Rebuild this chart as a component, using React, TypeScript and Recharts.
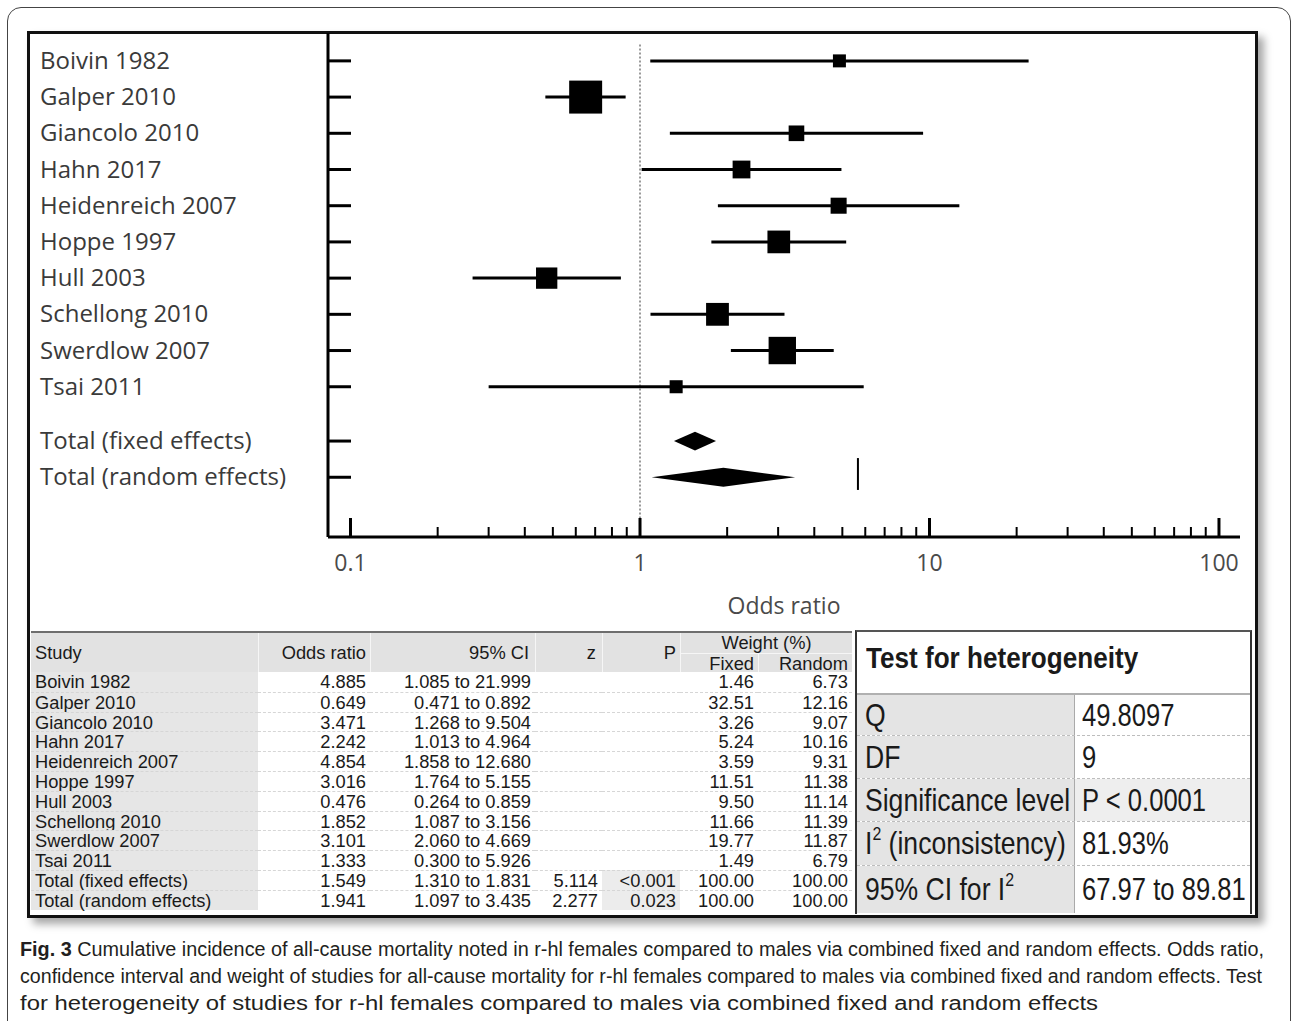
import React from "react";
import { Area, ComposedChart, Label, ReferenceLine, Scatter, XAxis, YAxis } from "recharts";

// ---- forest plot data ----
const studies = [
  "Boivin 1982",
  "Galper 2010",
  "Giancolo 2010",
  "Hahn 2017",
  "Heidenreich 2007",
  "Hoppe 1997",
  "Hull 2003",
  "Schellong 2010",
  "Swerdlow 2007",
  "Tsai 2011",
];
const oddsRatio = [4.885, 0.649, 3.471, 2.242, 4.854, 3.016, 0.476, 1.852, 3.101, 1.333];
const ciLow = [1.085, 0.471, 1.268, 1.013, 1.858, 1.764, 0.264, 1.087, 2.06, 0.3];
const ciHigh = [21.999, 0.892, 9.504, 4.964, 12.68, 5.155, 0.859, 3.156, 4.669, 5.926];
const weightFixed = [1.46, 32.51, 3.26, 5.24, 3.59, 11.51, 9.5, 11.66, 19.77, 1.49];
const weightRandom = [6.73, 12.16, 9.07, 10.16, 9.31, 11.38, 11.14, 11.39, 11.87, 6.79];

const totalLabels = ["Total (fixed effects)", "Total (random effects)"];
const totalOddsRatio = [1.549, 1.941];
const totalCiLow = [1.31, 1.097];
const totalCiHigh = [1.831, 3.435];
const totalZ = ["5.114", "2.277"];
const totalP = ["<0.001", "0.023"];
const totalWeightFixed = [100, 100];
const totalWeightRandom = [100, 100];

// lone vertical tick drawn beside the random-effects row in the original
const strayMark = 5.66;

const majorTicks = [0.1, 1, 10, 100];
const minorTicks = [
  0.2, 0.3, 0.4, 0.5, 0.6, 0.7, 0.8, 0.9,
  2, 3, 4, 5, 6, 7, 8, 9,
  20, 30, 40, 50, 60, 70, 80, 90,
];

const hetLabels = ["Q", "DF", "Significance level", "I2 (inconsistency)", "95% CI for I2"];
const hetValues = ["49.8097", "9", "P < 0.0001", "81.93%", "67.97 to 89.81"];

const caption = [
  "Cumulative incidence of all-cause mortality noted in r-hl females compared to males via combined fixed and random effects. Odds ratio,",
  "confidence interval and weight of studies for all-cause mortality for r-hl females compared to males via combined fixed and random effects. Test",
  "for heterogeneity of studies for r-hl females compared to males via combined fixed and random effects",
];

// ---- layout helpers ----
const rowOfStudy = (i: number) => i;
const rowOfTotal = (j: number) => studies.length + 0.5 + j;
const rowLabels = new Map<number, string>();
studies.forEach((s, i) => rowLabels.set(rowOfStudy(i), s));
totalLabels.forEach((s, j) => rowLabels.set(rowOfTotal(j), s));
const rowTicks = [...rowLabels.keys()];
const xTicks = [...majorTicks, ...minorTicks].sort((a, b) => a - b);

const PLOT_FONT = "'Open Sans', 'Noto Sans', sans-serif";
const TABLE_FONT = "'Liberation Sans', Arial, sans-serif";

const squarePoints = studies.map((s, i) => ({ x: oddsRatio[i], y: rowOfStudy(i), w: weightFixed[i] }));

const diamond = (j: number) => {
  const r = rowOfTotal(j);
  const half = 0.26;
  return [
    { x: totalCiLow[j], band: [r, r] },
    { x: totalOddsRatio[j], band: [r - half, r + half] },
    { x: totalCiHigh[j], band: [r, r] },
  ];
};

function SquareShape(props: any) {
  const side = 7.6 + 4.45 * Math.sqrt(props.payload.w);
  return <rect x={props.cx - side / 2} y={props.cy - side / 2} width={side} height={side} fill="#000" />;
}

function XTick(props: any) {
  const { x, y, payload } = props;
  const major = majorTicks.includes(payload.value);
  return (
    <g>
      <line x1={x} x2={x} y1={y} y2={y - (major ? 19 : 10)} stroke="#000" strokeWidth={major ? 3 : 2} />
      {major && (
        <text x={x} y={y + 34} textAnchor="middle" fontFamily={PLOT_FONT} fontSize={23} fill="#4a4a4a">
          {payload.value}
        </text>
      )}
    </g>
  );
}

function YTick(props: any) {
  const { x, y, payload } = props;
  return (
    <g>
      <line x1={x} x2={x + 23} y1={y} y2={y} stroke="#000" strokeWidth={3} />
      <text x={40} y={y + 8} fontFamily={PLOT_FONT} fontSize={24} fill="#3a3a3a">
        {rowLabels.get(payload.value)}
      </text>
    </g>
  );
}

function Narrow({ children, scale = 0.83 }: { children: React.ReactNode; scale?: number }) {
  return (
    <span style={{ display: "inline-block", transform: `scaleX(${scale})`, transformOrigin: "left center", whiteSpace: "nowrap" }}>
      {children}
    </span>
  );
}

function withSup(label: string) {
  const k = label.indexOf("I2");
  if (k < 0) return label;
  return (
    <>
      {label.slice(0, k)}I<sup style={{ fontSize: "0.6em", verticalAlign: "0.75em", lineHeight: 0 }}>2</sup>
      {label.slice(k + 2)}
    </>
  );
}

const colWidths = [227, 112, 165, 67, 78, 78, 94];
const colLefts = colWidths.map((_, i) => colWidths.slice(0, i).reduce((a, b) => a + b, 0));
const tableWidth = colWidths.reduce((a, b) => a + b, 0);
const ROW_H = 19.8;
const HEAD_H = 39;
const headBg = "#e2e2e2";
const studyBg = "#e6e6e6";

function Cell({
  col,
  span = 1,
  top,
  height,
  align = "right",
  bg,
  children,
  style,
}: {
  col: number;
  span?: number;
  top: number;
  height: number;
  align?: "left" | "right" | "center";
  bg?: string;
  children?: React.ReactNode;
  style?: React.CSSProperties;
}) {
  const width = colWidths.slice(col, col + span).reduce((a, b) => a + b, 0);
  return (
    <div
      style={{
        position: "absolute",
        left: colLefts[col],
        top,
        width,
        height,
        lineHeight: `${height}px`,
        padding: "0 4px",
        boxSizing: "border-box",
        textAlign: align,
        whiteSpace: "nowrap",
        background: bg,
        ...style,
      }}
    >
      {children}
    </div>
  );
}

function ResultsTable() {
  const rows = [
    ...studies.map((s, i) => ({
      name: s,
      or: oddsRatio[i].toFixed(3),
      ci: `${ciLow[i].toFixed(3)} to ${ciHigh[i].toFixed(3)}`,
      z: "",
      p: "",
      wf: weightFixed[i].toFixed(2),
      wr: weightRandom[i].toFixed(2),
      total: false,
    })),
    ...totalLabels.map((s, j) => ({
      name: s,
      or: totalOddsRatio[j].toFixed(3),
      ci: `${totalCiLow[j].toFixed(3)} to ${totalCiHigh[j].toFixed(3)}`,
      z: totalZ[j],
      p: totalP[j],
      wf: totalWeightFixed[j].toFixed(2),
      wr: totalWeightRandom[j].toFixed(2),
      total: true,
    })),
  ];
  const sep = "1px solid #f6f6f6";
  return (
    <div
      style={{
        position: "absolute",
        left: 31,
        top: 631,
        width: tableWidth,
        height: 2 + HEAD_H + rows.length * ROW_H,
        borderTop: "2px solid #6e6e6e",
        fontFamily: TABLE_FONT,
        fontSize: 18.3,
        color: "#1a1a1a",
      }}
    >
      <Cell col={0} top={0} height={HEAD_H} align="left" bg={headBg}>Study</Cell>
      <Cell col={1} top={0} height={HEAD_H} bg={headBg} style={{ borderLeft: sep }}>Odds ratio</Cell>
      <Cell col={2} top={0} height={HEAD_H} bg={headBg} style={{ borderLeft: sep, paddingRight: 6 }}>95% CI</Cell>
      <Cell col={3} top={0} height={HEAD_H} bg={headBg} style={{ borderLeft: sep, paddingRight: 6 }}>z</Cell>
      <Cell col={4} top={0} height={HEAD_H} bg={headBg} style={{ borderLeft: sep }}>P</Cell>
      <Cell col={5} span={2} top={0} height={HEAD_H / 2} align="center" bg={headBg} style={{ borderLeft: sep }}>Weight (%)</Cell>
      <Cell col={5} top={HEAD_H / 2} height={HEAD_H / 2} bg={headBg} style={{ borderLeft: sep, borderTop: sep }}>Fixed</Cell>
      <Cell col={6} top={HEAD_H / 2} height={HEAD_H / 2} bg={headBg} style={{ borderLeft: sep, borderTop: sep }}>Random</Cell>
      {rows.map((r, k) => {
        const top = HEAD_H + k * ROW_H;
        const line: React.CSSProperties = k > 0 ? { borderTop: "1px dashed #d6d6d6" } : {};
        return (
          <React.Fragment key={r.name}>
            <Cell col={0} top={top} height={ROW_H} align="left" bg={studyBg} style={line}>{r.name}</Cell>
            <Cell col={1} top={top} height={ROW_H} style={line}>{r.or}</Cell>
            <Cell col={2} top={top} height={ROW_H} style={line}>{r.ci}</Cell>
            <Cell col={3} top={top} height={ROW_H} style={line}>{r.z}</Cell>
            <Cell col={4} top={top} height={ROW_H} bg={r.total ? "#ececec" : undefined} style={line}>{r.p}</Cell>
            <Cell col={5} top={top} height={ROW_H} style={line}>{r.wf}</Cell>
            <Cell col={6} top={top} height={ROW_H} style={line}>{r.wr}</Cell>
          </React.Fragment>
        );
      })}
    </div>
  );
}

const hetRowHeights = [40, 42, 42, 43, 47];

function HeterogeneityBox() {
  return (
    <div
      style={{
        position: "absolute",
        left: 855,
        top: 630,
        width: 397,
        height: 284,
        boxSizing: "border-box",
        borderLeft: "2px solid #333",
        borderRight: "2px solid #333",
        borderTop: "2px solid #555",
        background: "#fff",
        fontFamily: TABLE_FONT,
        color: "#1a1a1a",
        overflow: "hidden",
      }}
    >
      <div style={{ height: 63, paddingLeft: 9, paddingTop: 9, boxSizing: "border-box", fontSize: 30, fontWeight: "bold", borderBottom: "2px solid #b0b0b0" }}>
        <Narrow scale={0.87}>Test for heterogeneity</Narrow>
      </div>
      {hetLabels.map((label, i) => (
        <div key={label} style={{ display: "flex", height: hetRowHeights[i], borderBottom: i < hetLabels.length - 1 ? "1px dashed #bdbdbd" : "none", fontSize: 32 }}>
          <div style={{ width: 218, flex: "none", background: "#e4e4e4", paddingLeft: 8, boxSizing: "border-box", borderRight: "1px solid #aaa", display: "flex", alignItems: "center", overflow: "hidden" }}>
            <Narrow>{withSup(label)}</Narrow>
          </div>
          <div style={{ flex: 1, minWidth: 0, paddingLeft: 7, background: i === 2 ? "#eeeeee" : "#fff", display: "flex", alignItems: "center", overflow: "hidden" }}>
            <Narrow scale={0.8}>{hetValues[i]}</Narrow>
          </div>
        </div>
      ))}
    </div>
  );
}

function Caption() {
  const widths = [1244, 1242, 1078];
  return (
    <svg width={1292} height={96} style={{ position: "absolute", left: 0, top: 925 }}>
      {caption.map((line, i) => (
        <text
          key={i}
          x={20}
          y={31 + i * 27}
          fontFamily="'Liberation Sans Narrow', 'Liberation Sans', Arial, sans-serif"
          fontSize={20}
          fill="#231f20"
          textLength={widths[i]}
          lengthAdjust="spacingAndGlyphs"
        >
          {i === 0 && <tspan fontWeight="bold">Fig. 3 </tspan>}
          {line}
        </text>
      ))}
    </svg>
  );
}

function ForestPlot() {
  return (
    <div style={{ position: "absolute", left: 0, top: 0 }}>
      <ComposedChart width={1292} height={630} margin={{ top: 33, right: 52, left: 28, bottom: 0 }}>
        <XAxis
          type="number"
          dataKey="x"
          scale="log"
          domain={[0.0836, 118.2]}
          allowDataOverflow
          ticks={xTicks}
          interval={0}
          tickSize={0}
          tickMargin={0}
          tick={<XTick />}
          axisLine={{ stroke: "#000", strokeWidth: 3 }}
          height={93}
        >
          <Label value="Odds ratio" position="insideBottom" offset={16} fontFamily={PLOT_FONT} fontSize={23} fill="#4a4a4a" />
        </XAxis>
        <YAxis
          type="number"
          dataKey="y"
          domain={[-0.77, 13.15]}
          reversed
          allowDataOverflow
          ticks={rowTicks}
          interval={0}
          tickSize={0}
          tickMargin={0}
          width={300}
          tick={<YTick />}
          axisLine={{ stroke: "#000", strokeWidth: 3 }}
        />
        <ReferenceLine
          segment={[
            { x: 1, y: -0.45 },
            { x: 1, y: 13.15 },
          ]}
          stroke="#9a9a9a"
          strokeWidth={2}
          strokeDasharray="2 2"
        />
        {studies.map((s, i) => (
          <ReferenceLine
            key={s}
            segment={[
              { x: ciLow[i], y: rowOfStudy(i) },
              { x: ciHigh[i], y: rowOfStudy(i) },
            ]}
            stroke="#000"
            strokeWidth={3}
          />
        ))}
        <ReferenceLine
          segment={[
            { x: strayMark, y: 10.97 },
            { x: strayMark, y: 11.85 },
          ]}
          stroke="#000"
          strokeWidth={2}
        />
        <Scatter data={squarePoints} shape={<SquareShape />} isAnimationActive={false} />
        {totalLabels.map((s, j) => (
          <Area
            key={s}
            data={diamond(j)}
            dataKey="band"
            type="linear"
            stroke="none"
            fill="#000"
            fillOpacity={1}
            dot={false}
            activeDot={false}
            isAnimationActive={false}
          />
        ))}
      </ComposedChart>
    </div>
  );
}

export default function App() {
  return (
    <div style={{ position: "absolute", left: 0, top: 0, width: 1292, height: 1021, overflow: "hidden", background: "#fff" }}>
      <div
        style={{
          position: "absolute",
          left: 7,
          top: 7,
          width: 1284,
          height: 1100,
          border: "1.5px solid #444",
          borderRadius: 14,
          boxSizing: "border-box",
        }}
      />
      <div
        style={{
          position: "absolute",
          left: 27,
          top: 31,
          width: 1231,
          height: 887,
          border: "3px solid #111",
          boxSizing: "border-box",
          boxShadow: "6px 6px 8px rgba(0,0,0,0.35)",
          background: "#fff",
        }}
      />
      <ForestPlot />
      <ResultsTable />
      <HeterogeneityBox />
      <Caption />
    </div>
  );
}
